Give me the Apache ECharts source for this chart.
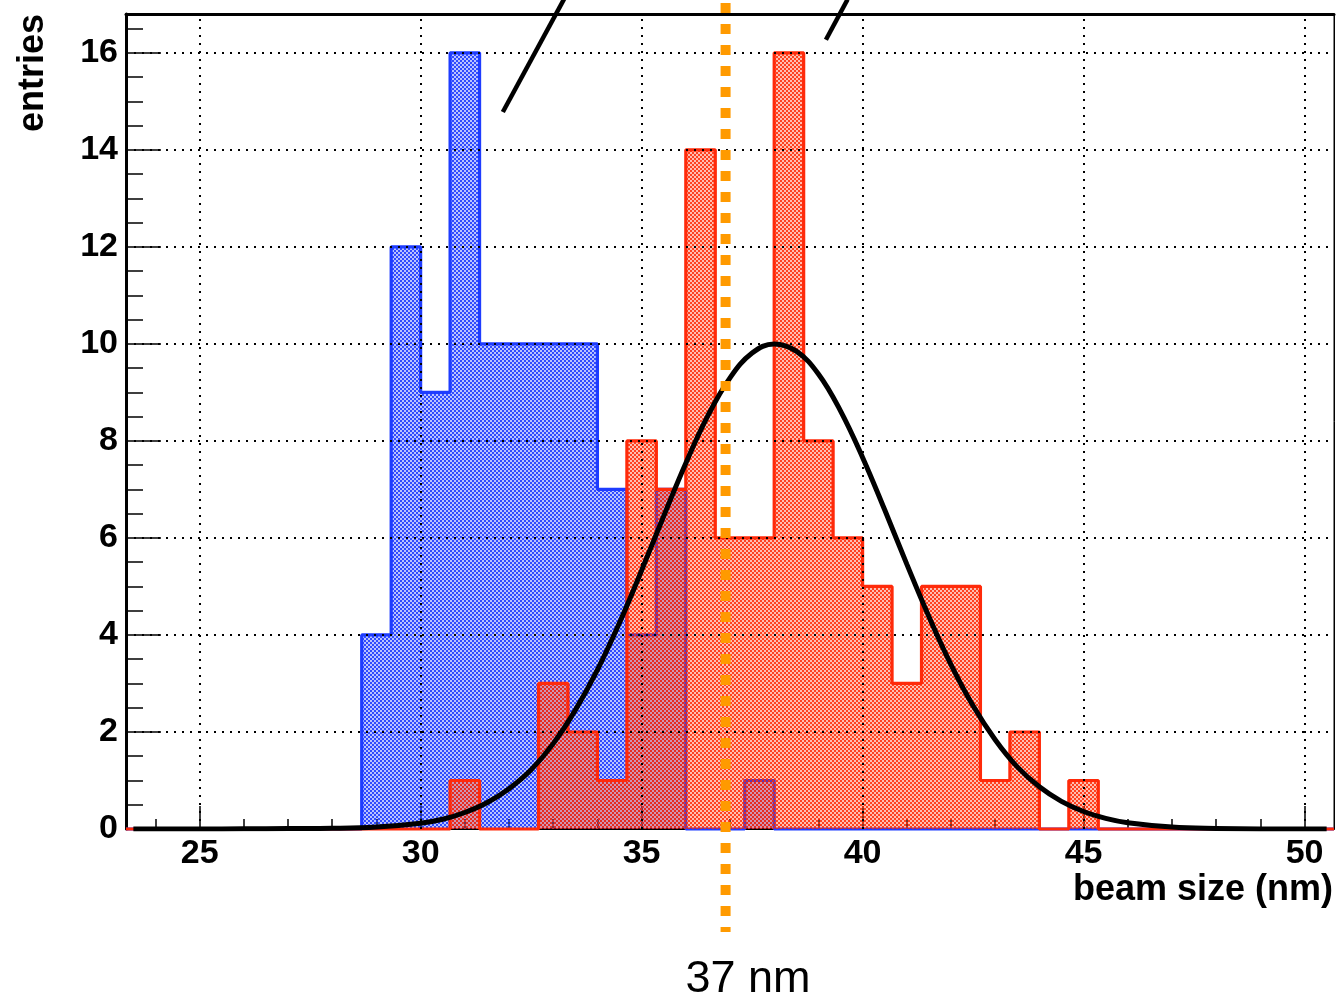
<!DOCTYPE html>
<html><head><meta charset="utf-8">
<script src="https://cdn.jsdelivr.net/npm/echarts@6/dist/echarts.min.js"></script>
<style>html,body{margin:0;padding:0;background:#fff}#c{width:1336px;height:1003px}</style>
</head><body><div id="c"></div>
<script>
// Histogram binning (ROOT-style): 41 bins of 2/3 nm from 23.333 to 50.667
const histMin = 70 / 3;
const histMax = 152 / 3;
const binWidth = 2 / 3;
// entries per bin
const blueCounts = [0,0,0,0,0,0,0,0, 4,12,9,16,10,10,10,10,7,4,7,0,0,1,0,0,0,0,0,0,0,0,0,0,0, 0,0,0,0,0,0,0,0];
const redCounts  = [0,0,0,0,0,0,0,0, 0,0,0,1,0,0,3,2,1,8,7,14,6,6,16,8,6,5,3,5,5,1,2,0,1, 0,0,0,0,0,0,0,0];
// Gaussian fit curve
const fitX = [23.5,25,26,27,28,29,30,30.5,31,31.5,32,32.5,33,33.5,34,34.5,35,35.5,36,36.5,37,37.5,38,38.5,39,39.5,40,40.5,41,41.5,42,42.5,43,43.5,44,44.5,45,45.5,46,47,48,49,50,50.5];
const fitY = [0,0,0.005,0.01,0.015,0.04,0.12,0.2,0.34,0.54,0.83,1.22,1.76,2.45,3.28,4.25,5.33,6.45,7.54,8.52,9.30,9.81,10.0,9.85,9.38,8.62,7.66,6.58,5.46,4.38,3.39,2.54,1.84,1.28,0.87,0.57,0.36,0.22,0.13,0.04,0.01,0,0,0];
// axis ticks
const xMajor = [25,30,35,40,45,50];
const xMinor = [24,26,27,28,29,31,32,33,34,36,37,38,39,41,42,43,44,46,47,48,49];
const yMajor = [0,2,4,6,8,10,12,14,16];
const yMinor = [0.5,1,1.5,2.5,3,3.5,4.5,5,5.5,6.5,7,7.5,8.5,9,9.5,10.5,11,11.5,12.5,13,13.5,14.5,15,15.5,16.5];
const yMax = 16.8;
// annotations
const refLineX = 36.9;
const refLabel = '37 nm';
const arrow1 = [[31.86, 14.78], [33.36, 17.3]];
const arrow2 = [[39.17, 16.27], [39.66, 17.1]];

function histPoints(counts) {
  const pts = counts.map((c, i) => [histMin + i * binWidth, c]);
  pts.push([histMax, counts[counts.length - 1]]);
  return pts;
}
function makePattern(strong, weak) {
  const c = document.createElement('canvas');
  c.width = 4; c.height = 4;
  const g = c.getContext('2d');
  g.clearRect(0, 0, 4, 4);
  g.fillStyle = weak;
  g.fillRect(2, 0, 2, 2);
  g.fillRect(0, 2, 2, 2);
  g.fillStyle = strong;
  g.fillRect(0, 0, 2, 2);
  g.fillRect(2, 2, 2, 2);
  return c;
}
const FONT = 'Liberation Sans, Arial, Helvetica, sans-serif';
const chart = echarts.init(document.getElementById('c'), null, {renderer: 'canvas'});
const axisLabelStyle = {fontFamily: FONT, fontWeight: 'bold', fontSize: 34, color: '#000'};

chart.setOption({
  animation: false,
  backgroundColor: '#fff',
  grid: {left: 126, right: 2, top: 14, bottom: 174, show: true, borderColor: '#000', borderWidth: 1, backgroundColor: 'transparent'},
  xAxis: [
    {type: 'value', position: 'bottom', min: histMin, max: histMax,
     axisLine: {show: true, onZero: false, lineStyle: {color: '#000', width: 2}},
     axisTick: {show: true, inside: true, length: 23, customValues: xMajor, lineStyle: {color: '#000', width: 1.5}},
     axisLabel: Object.assign({customValues: xMajor, margin: 8}, axisLabelStyle),
     splitLine: {show: false}},
    {type: 'value', position: 'bottom', min: histMin, max: histMax,
     axisLine: {show: false, onZero: false},
     axisTick: {show: true, inside: true, length: 10, customValues: xMinor, lineStyle: {color: '#000', width: 1.5}},
     axisLabel: {show: false}, splitLine: {show: false}},
    {type: 'value', position: 'top', min: histMin, max: histMax,
     axisLine: {show: true, onZero: false, lineStyle: {color: '#000', width: 3}},
     axisTick: {show: false}, axisLabel: {show: false}, splitLine: {show: false}}
  ],
  yAxis: [
    {type: 'value', position: 'left', min: 0, max: yMax,
     axisLine: {show: true, onZero: false, lineStyle: {color: '#000', width: 3}},
     axisTick: {show: true, inside: true, length: 35, customValues: yMajor, lineStyle: {color: '#000', width: 1.5}},
     axisLabel: Object.assign({customValues: yMajor, margin: 8}, axisLabelStyle),
     splitLine: {show: false}},
    {type: 'value', position: 'left', min: 0, max: yMax,
     axisLine: {show: false, onZero: false},
     axisTick: {show: true, inside: true, length: 17, customValues: yMinor, lineStyle: {color: '#000', width: 1.5}},
     axisLabel: {show: false}, splitLine: {show: false}},
    {type: 'value', position: 'right', min: 0, max: yMax,
     axisLine: {show: true, onZero: false, lineStyle: {color: '#000', width: 1}},
     axisTick: {show: false}, axisLabel: {show: false}, splitLine: {show: false}}
  ],
  series: [
    {name: 'blue', type: 'line', step: 'end', data: histPoints(blueCounts), symbol: 'none', clip: false,
     lineStyle: {color: '#1e3cff', width: 3.2},
     areaStyle: {color: {image: makePattern('rgba(25,55,255,0.9)', 'rgba(25,55,255,0.3)'), repeat: 'repeat'}, opacity: 1}, z: 2},
    {name: 'red', type: 'line', step: 'end', data: histPoints(redCounts), symbol: 'none', clip: false,
     lineStyle: {color: '#ff2a0a', width: 3.2},
     areaStyle: {color: {image: makePattern('rgba(255,40,0,0.88)', 'rgba(255,40,0,0.3)'), repeat: 'repeat'}, opacity: 1}, z: 3},
    {name: 'grid', type: 'line', data: [[histMin, 0]], symbol: 'none', lineStyle: {opacity: 0}, z: 4,
     markLine: {silent: true, symbol: ['none', 'none'], label: {show: false},
       lineStyle: {color: '#000', width: 2, type: [2, 6]},
       data: xMajor.map(v => ({xAxis: v})).concat(yMajor.filter(v => v > 0).map(v => ({yAxis: v})))}},
    {name: 'fit', type: 'line', data: fitX.map((x, i) => [x, fitY[i]]), symbol: 'none', smooth: 0.4,
     lineStyle: {color: '#000', width: 5}, z: 5}
  ]
});

const px = chart.convertToPixel({xAxisIndex: 0}, refLineX);
const a1 = arrow1.map(p => chart.convertToPixel({gridIndex: 0}, p));
const a2 = arrow2.map(p => chart.convertToPixel({gridIndex: 0}, p));
chart.setOption({
  graphic: [
    {type: 'line', z: 100, shape: {x1: a1[0][0], y1: a1[0][1], x2: a1[1][0], y2: a1[1][1]}, style: {stroke: '#000', lineWidth: 4.5}},
    {type: 'line', z: 100, shape: {x1: a2[0][0], y1: a2[0][1], x2: a2[1][0], y2: a2[1][1]}, style: {stroke: '#000', lineWidth: 4.5}},
    {type: 'line', z: 101, shape: {x1: px, y1: 3, x2: px, y2: 932}, style: {stroke: '#ff9a00', lineWidth: 10, lineDash: [10, 11]}},
    {type: 'text', z: 102, x: 748, y: 980, style: {text: refLabel, align: 'center', verticalAlign: 'middle', font: '45px ' + FONT, fill: '#000'}},
    {type: 'text', z: 102, x: 1333, y: 890, style: {text: 'beam size (nm)', align: 'right', verticalAlign: 'middle', font: 'bold 36px ' + FONT, fill: '#000'}},
    {type: 'text', z: 102, x: 33, y: 14, rotation: Math.PI / 2, style: {text: 'entries', align: 'right', verticalAlign: 'middle', font: 'bold 36px ' + FONT, fill: '#000'}}
  ]
});
</script>
</body></html>
